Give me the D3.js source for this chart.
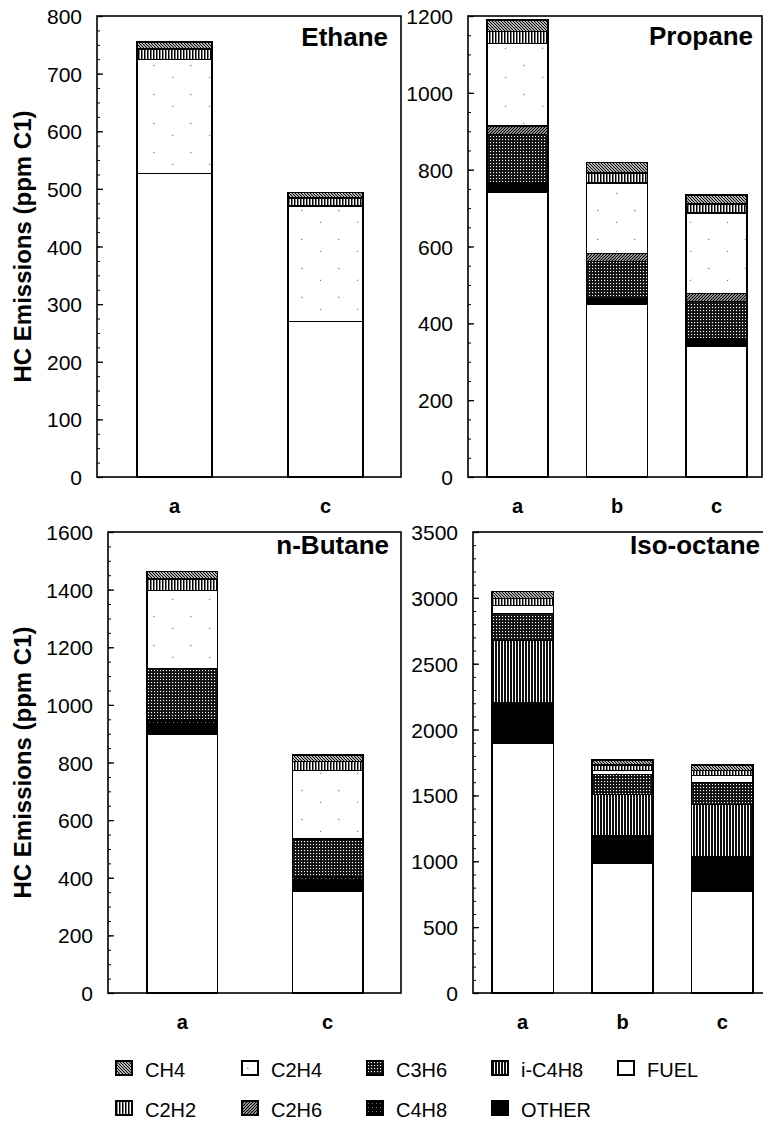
<!DOCTYPE html>
<html>
<head>
<title>HC emissions by species</title>
<style>
  body { margin: 0; background: #fff; }
  svg text { font-family: "Liberation Sans", Arial, Helvetica, sans-serif; fill: #000; }
</style>
<script src="https://d3js.org/d3.v7.min.js"></script>
</head>
<body>
<svg width="763" height="1133"></svg>
<script>
// stack order, bottom to top
var species = ["FUEL", "OTHER", "i-C4H8", "C4H8", "C3H6", "C2H6", "C2H4", "C2H2", "CH4"];
var legendItems = ["CH4", "C2H4", "C3H6", "i-C4H8", "FUEL", "C2H2", "C2H6", "C4H8", "OTHER"];

var panelTitles = ["Ethane", "Propane", "n-Butane", "Iso-octane"];
var panelRuns = [["a", "c"], ["a", "b", "c"], ["a", "c"], ["a", "b", "c"]];
var yMaxes = [800, 1200, 1600, 3500];
var yMajor = [100, 200, 200, 500];
var yMinor = [25, 50, 50, 100];

// ppm C1, same order as species
var ethaneA  = [527, 0, 0, 0, 0, 0, 198, 18, 12];
var ethaneC  = [270, 0, 0, 0, 0, 0, 200, 14, 10];
var propaneA = [740, 26, 0, 0, 125, 23, 215, 31, 30];
var propaneB = [450, 15, 0, 0, 96, 21, 183, 26, 27];
var propaneC = [339, 22, 0, 0, 96, 21, 209, 24, 23];
var butaneA  = [897, 32, 0, 18, 180, 0, 270, 40, 26];
var butaneC  = [354, 35, 0, 15, 130, 0, 239, 31, 22];
var octaneA  = [1893, 309, 472, 0, 205, 0, 63, 52, 55];
var octaneB  = [983, 210, 314, 0, 150, 0, 34, 39, 40];
var octaneC  = [774, 262, 393, 0, 171, 0, 52, 39, 39];

var panelValues = [[ethaneA, ethaneC], [propaneA, propaneB, propaneC], [butaneA, butaneC], [octaneA, octaneB, octaneC]];

var layout = [
  {x0: 97,  x1: 401, y0: 16,  y1: 477, b0: 137, b1: 363, pad: 0.503, tdy: 30, tx: 388, labY: 513},
  {x0: 468, x1: 762, y0: 16,  y1: 477, b0: 487, b1: 747, pad: 0.387, tdy: 29, tx: 753, labY: 513},
  {x0: 108, x1: 401, y0: 532, y1: 993, b0: 147, b1: 363, pad: 0.514, tdy: 22, tx: 389, labY: 1029},
  {x0: 473, x1: 769, y0: 532, y1: 993, b0: 492, b1: 753, pad: 0.387, tdy: 22, tx: 760, labY: 1029}
];

var svg = d3.select("svg");
var defs = svg.append("defs");

function pattern(name, w, h) {
  return defs.append("pattern")
    .attr("id", "pat-" + name)
    .attr("patternUnits", "userSpaceOnUse")
    .attr("width", w).attr("height", h);
}

var p;
p = pattern("CH4", 3, 3);
p.append("rect").attr("width", 3).attr("height", 3).attr("fill", "#fff");
p.append("path").attr("d", "M0,0 l3,3 M-1,2 l2,2 M2,-1 l2,2").attr("stroke", "#000").attr("stroke-width", 1.2);

p = pattern("C2H2", 3, 3);
p.append("rect").attr("width", 3).attr("height", 3).attr("fill", "#fff");
p.append("rect").attr("width", 1.5).attr("height", 3).attr("fill", "#000");

p = pattern("C2H4", 37, 29);
p.append("rect").attr("width", 37).attr("height", 29).attr("fill", "#fff");
p.append("path").attr("d", "M5,7 l1.5,1 M24,20 l1.2,-1.3").attr("stroke", "#444").attr("stroke-width", 0.8);

p = pattern("C2H6", 3, 3);
p.append("rect").attr("width", 3).attr("height", 3).attr("fill", "#fff");
p.append("path").attr("d", "M0,3 l3,-3 M-1,1 l2,-2 M2,4 l2,-2").attr("stroke", "#000").attr("stroke-width", 1.3);

p = pattern("C3H6", 3, 3);
p.append("rect").attr("width", 3).attr("height", 3).attr("fill", "#111");
p.append("rect").attr("x", 1).attr("y", 1).attr("width", 1.1).attr("height", 1.1).attr("fill", "#fff");

p = pattern("C4H8", 4, 4);
p.append("rect").attr("width", 4).attr("height", 4).attr("fill", "#000");
p.append("rect").attr("x", 1).attr("y", 2).attr("width", 0.8).attr("height", 0.8).attr("fill", "#bbb");

p = pattern("i-C4H8", 3, 3);
p.append("rect").attr("width", 3).attr("height", 3).attr("fill", "#fff");
p.append("rect").attr("width", 2).attr("height", 3).attr("fill", "#111");

function fillFor(key) {
  if (key == "FUEL") return "#fff";
  if (key == "OTHER") return "#000";
  return "url(#pat-" + key + ")";
}

var stack = d3.stack().keys(species);

panelTitles.forEach(function(title, i) {
  var L = layout[i];
  var g = svg.append("g");

  var x = d3.scaleBand()
    .domain(panelRuns[i])
    .range([L.b0, L.b1])
    .paddingInner(L.pad)
    .paddingOuter(0);

  var y = d3.scaleLinear()
    .domain([0, yMaxes[i]])
    .range([L.y1, L.y0]);

  var rows = panelRuns[i].map(function(run, j) {
    var row = {run: run};
    species.forEach(function(s, k) { row[s] = panelValues[i][j][k]; });
    return row;
  });

  var series = stack(rows);

  g.selectAll(".layer")
    .data(series)
    .enter().append("g")
    .attr("class", "layer")
    .attr("fill", function(d) { return fillFor(d.key); })
    .selectAll("rect")
    .data(function(d) { return d.filter(function(e) { return e[1] > e[0]; }); })
    .enter().append("rect")
    .attr("x", function(d) { return x(d.data.run); })
    .attr("width", x.bandwidth())
    .attr("y", function(d) { return y(d[1]); })
    .attr("height", function(d) { return y(d[0]) - y(d[1]); })
    .attr("stroke", "#000")
    .attr("stroke-width", 1.4)
    .attr("shape-rendering", "crispEdges");

  // frame
  g.append("rect")
    .attr("x", L.x0).attr("y", L.y0)
    .attr("width", L.x1 - L.x0).attr("height", L.y1 - L.y0)
    .attr("fill", "none")
    .attr("stroke", "#000")
    .attr("stroke-width", 1.6);

  var minorAxis = g.append("g")
    .attr("transform", "translate(" + L.x0 + ",0)")
    .call(d3.axisLeft(y)
      .tickValues(d3.range(0, yMaxes[i] + 1, yMinor[i]))
      .tickSize(-3)
      .tickFormat(""));
  minorAxis.select(".domain").remove();

  var majorAxis = g.append("g")
    .attr("transform", "translate(" + L.x0 + ",0)")
    .call(d3.axisLeft(y)
      .tickValues(d3.range(0, yMaxes[i] + 1, yMajor[i]))
      .tickSize(-6)
      .tickPadding(15)
      .tickFormat(d3.format("d")));
  majorAxis.select(".domain").remove();
  majorAxis.selectAll("line").attr("stroke-width", 1.3);
  majorAxis.selectAll("text")
    .style("font-size", "21px")
    .attr("dy", "0.36em");

  g.selectAll(".runlabel")
    .data(panelRuns[i])
    .enter().append("text")
    .attr("class", "runlabel")
    .attr("x", function(d) { return x(d) + x.bandwidth() / 2; })
    .attr("y", L.labY)
    .attr("text-anchor", "middle")
    .style("font-size", "20px")
    .style("font-weight", "bold")
    .text(function(d) { return d; });

  g.append("text")
    .attr("x", L.tx)
    .attr("y", L.y0 + L.tdy)
    .attr("text-anchor", "end")
    .style("font-size", "26px")
    .style("font-weight", "bold")
    .text(title);

  if (i % 2 == 0) {
    g.append("text")
      .attr("transform", "translate(31," + ((L.y0 + L.y1) / 2) + ") rotate(-90)")
      .attr("text-anchor", "middle")
      .style("font-size", "24px")
      .style("font-weight", "bold")
      .text("HC Emissions (ppm C1)");
  }
});

// legend, 5 columns x 2 rows
var legX = [116, 242, 367, 492, 618];
var legY = [1061, 1101];

var leg = svg.append("g").selectAll("g")
  .data(legendItems)
  .enter().append("g")
  .attr("transform", function(d, i) {
    return "translate(" + legX[i % 5] + "," + legY[Math.floor(i / 5)] + ")";
  });

leg.append("rect")
  .attr("width", 16)
  .attr("height", 14)
  .attr("fill", function(d) { return fillFor(d); })
  .attr("stroke", "#000")
  .attr("stroke-width", 1.2)
  .attr("shape-rendering", "crispEdges");

leg.append("text")
  .attr("x", 29)
  .attr("y", 16)
  .style("font-size", "20px")
  .text(function(d) { return d; });
</script>
</body>
</html>
